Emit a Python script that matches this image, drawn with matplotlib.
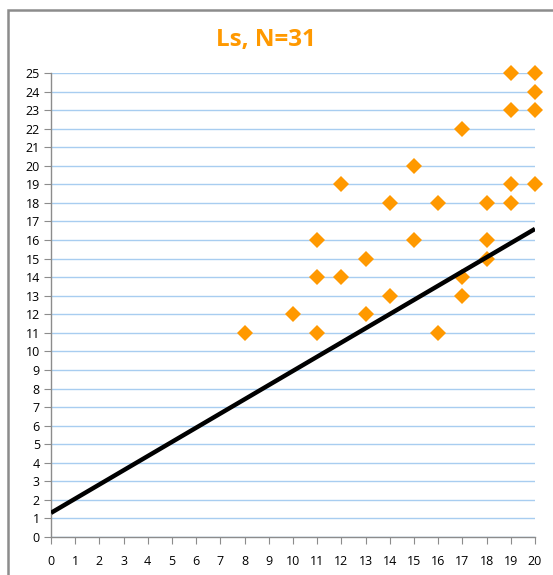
import matplotlib
matplotlib.use("Agg")
import matplotlib.pyplot as plt
from matplotlib.patches import Rectangle

title = "Ls, N=31"
x_vals = [8, 10, 11, 11, 11, 12, 12, 13, 13, 14, 14, 15, 15, 16, 16, 17, 17, 17,
          18, 18, 18, 19, 19, 19, 19, 20, 20, 20, 20]
y_vals = [11, 12, 11, 14, 16, 14, 19, 12, 15, 13, 18, 16, 20, 11, 18, 13, 14, 22,
          15, 16, 18, 18, 19, 23, 25, 19, 23, 24, 25]
trend_x = [0, 20]
trend_y = [1.3, 16.6]
x_ticks = list(range(0, 21))
y_ticks = list(range(0, 26))

plt.rcParams['font.family'] = ['Open Sans', 'DejaVu Sans']

fig = plt.figure(figsize=(5.53, 5.75), dpi=100)
fig.patch.set_facecolor('white')
fig.patches.append(Rectangle((8/553, -0.1), 1.2, 1 - 10/575 + 0.1, transform=fig.transFigure,
                             fill=False, edgecolor='#8c8c8c', linewidth=1.8))

ax = fig.add_axes([51/553, 1 - 537/575, (535 - 51)/553, (537 - 73)/575])
ax.set_xlim(0, 20)
ax.set_ylim(0, 25)
ax.set_xticks(x_ticks)
ax.set_yticks(y_ticks)
ax.set_xticklabels([str(t) for t in x_ticks])
ax.set_yticklabels([str(t) for t in y_ticks])
ax.yaxis.grid(True, color='#a8cdf0', linewidth=1.0)
ax.set_axisbelow(True)
for s in ['top', 'right']:
    ax.spines[s].set_visible(False)
for s in ['left', 'bottom']:
    ax.spines[s].set_color('#8c8c8c')
    ax.spines[s].set_linewidth(1.0)
ax.tick_params(direction='out', length=5, color='#8c8c8c', labelsize=9, labelcolor='black')
ax.tick_params(axis='x', pad=8)
ax.tick_params(axis='y', pad=3)

ax.plot(x_vals, y_vals, linestyle='none', marker='D', markersize=8.5,
        color='#ff9900', markeredgewidth=0, clip_on=False, zorder=3)
ax.plot(trend_x, trend_y, color='black', linewidth=3.2, zorder=4, solid_capstyle='butt')

fig.text(266/553, 1 - 40/575, title, ha='center', va='center', fontsize=17.5,
         fontweight='bold', color='#ff9900')

fig.savefig('out.png', dpi=100)
